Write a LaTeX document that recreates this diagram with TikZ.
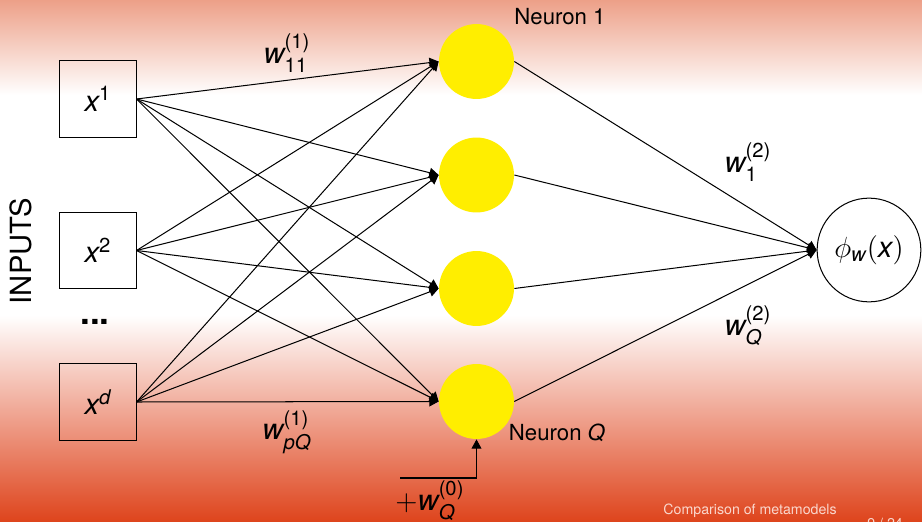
\documentclass[tikz,border=0pt,11pt]{standalone}
\usepackage{amsmath}
\usepackage{fontspec}
\setmainfont{TeX Gyre Heros}
\usetikzlibrary{arrows.meta,positioning,calc}
\definecolor{salmon}{RGB}{237,160,136}
\definecolor{peach}{RGB}{237,150,128}
\definecolor{rust}{RGB}{222,68,28}
\definecolor{sun}{RGB}{255,238,0}
\definecolor{footpink}{RGB}{250,215,205}
% slide background: salmon top, white band, deep orange bottom
\pgfdeclareverticalshading{slidebg}{100bp}{color(0bp)=(rust); color(25bp)=(rust);
  color(33.8bp)=(peach); color(44.8bp)=(white); color(65.9bp)=(white);
  color(75bp)=(salmon); color(100bp)=(salmon)}
\newcommand{\mv}[1]{\textit{#1}}
\newcommand{\mt}[1]{\text{#1}}
\tikzset{
  >={Triangle[length=1.6mm,width=1.7mm]},
  inbox/.style={draw,line width=0.5pt,minimum size=13.2mm,inner sep=0pt,font=\Large},
  neuron/.style={circle,fill=sun,minimum size=13mm,inner sep=0pt},
  outnode/.style={circle,draw,line width=0.5pt,minimum size=18mm,inner sep=0pt,font=\Large},
  wlabel/.style={font=\Large,inner sep=0pt},
  tag/.style={font=\normalsize,inner sep=0pt},
  link/.style={->,line width=0.5pt},
  foot/.style={font=\fontsize{7}{8}\selectfont,text=footpink,inner sep=0pt},
}
\begin{document}
\begin{tikzpicture}[x=0.173536mm,y=-0.173536mm]
  \useasboundingbox (0,0) rectangle (922,522);
  \clip (0,0) rectangle (922,522);
  \shade[shading=slidebg] (0,0) rectangle (922,522);

  % inputs
  \node[inbox] (in1) at (98,99) {$\mv{x}^{\mt{1}}$};
  \node[inbox] (in2) at (98,250.5) {$\mv{x}^{\mt{2}}$};
  \node[inbox] (in3) at (98,402) {$\mv{x}^{\mv{d}}$};
  \node[font=\LARGE\bfseries,inner sep=0pt] (dots) at (95,322) {...};
  \node[rotate=90,font=\Large,inner sep=0pt] (inputs) at (21,251) {INPUTS};

  % hidden layer
  \foreach \y [count=\j] in {61.5,175,288.5,401.5}
    \node[neuron] (n\j) at (476.5,\y) {};
  \node[outnode] (out) at (869,250) {$\phi_{\mv{w}}(\mv{x})$};

  \foreach \i in {1,2,3}
    \foreach \j in {1,2,3,4}
      \draw[link] (in\i.east) -- (n\j.west);
  \foreach \j in {1,2,3,4}
    \draw[link] (n\j.east) -- (out.west);

  % bias
  \coordinate (bias) at (400,478);
  \draw[link] (bias) -| (n4.south);

  % labels
  \node[tag] (lab1) at (560,17) {Neuron 1};
  \node[tag] (labQ) at (557,433) {Neuron \mv{Q}};
  \node[wlabel] (w11) at (287,53) {$\mv{w}_{\mt{11}}^{\mt{(1)}}$};
  \node[wlabel] (wpQ) at (287,432) {$\mv{w}_{\mv{pQ}}^{\mt{(1)}}$};
  \node[wlabel] (w21) at (748,162) {$\mv{w}_{\mt{1}}^{\mt{(2)}}$};
  \node[wlabel] (w2Q) at (748,326) {$\mv{w}_{\mv{Q}}^{\mt{(2)}}$};
  \node[wlabel] (w0) at (430,501) {$+\mv{w}_{\mv{Q}}^{\mt{(0)}}$};

  % footline
  \node[foot,anchor=base west] (title) at (663,514) {Comparison of metamodels};
  \node[foot,anchor=base west] (page) at (867,528) {9 / 24};
\end{tikzpicture}
\end{document}
